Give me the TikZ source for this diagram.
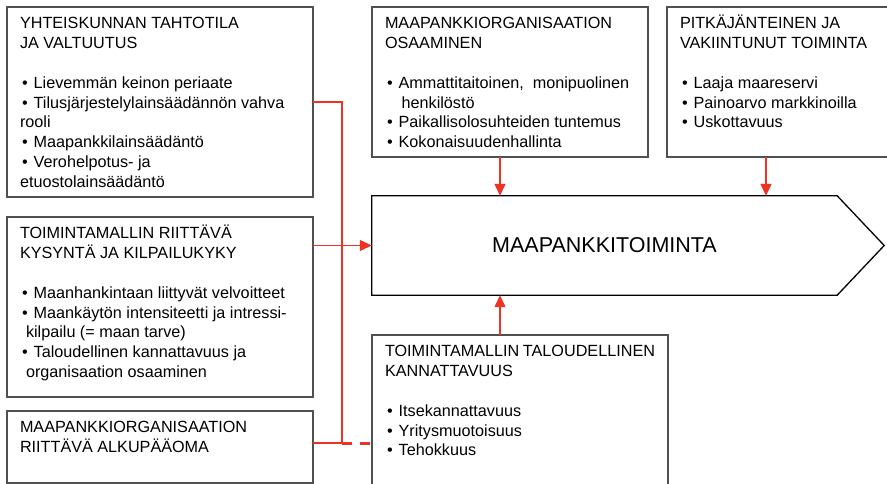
\documentclass[tikz,border=0pt]{standalone}
\usepackage{fontspec}
\setmainfont{Liberation Sans}
\usepackage{tikz}
\usetikzlibrary{
  arrows.meta,
  positioning,
  calc
}
\definecolor{mpred}{RGB}{238, 50, 36}
\definecolor{mpgray}{RGB}{80, 80, 80}
\newcommand{\bul}{\hspace*{2pt}\textbullet\hspace{6pt}}
\newcommand{\hng}{\phantom{\bul}}
\newcommand{\cbtext}[3]{\parbox[t][#2][t]{#1}{\strut #3}}

\begin{document}
\begin{tikzpicture}[x=1pt, y=-1pt,
    cbox/.style={
        draw=mpgray, line width=1.6pt, anchor=north west,
        inner xsep=13pt, inner ysep=8pt, outer sep=0pt,
        font=\fontsize{16.2}{19.8}\selectfont
    },
  hubbox/.style={minimum width=465pt, minimum height=99pt, inner sep=0pt,
        font=\fontsize{21.5}{24}\selectfont},
  rarr/.style={draw=mpred, line width=1.3pt, -{Triangle[length=12pt, width=11pt]}},
  rline/.style={draw=mpred, line width=1.2pt},
  rdash/.style={draw=mpred, line width=3pt, dash pattern=on 10pt off 8pt}
]
\useasboundingbox (0,0) rectangle (887,484);
\def\xL{7}   \def\xM{372}   \def\xR{667}
\def\rA{7}   \def\rB{217}   \def\rC{411}   \def\rD{335}

\node[cbox] (tahto) at (\xL,\rA) {\cbtext{280pt}{174pt}{%
  YHTEISKUNNAN TAHTOTILA\\
  JA VALTUUTUS\\[19.8pt]
  \bul Lievemmän keinon periaate\\
  \bul Tilusjärjestelylainsäädännön vahva\\
  rooli\\
  \bul Maapankkilainsäädäntö\\
  \bul Verohelpotus- ja\\
  etuostolainsäädäntö}};

\node[cbox] (kysy) at (\xL,\rB) {\cbtext{280pt}{164pt}{%
  TOIMINTAMALLIN RIITTÄVÄ\\
  KYSYNTÄ JA KILPAILUKYKY\\[19.8pt]
  \bul Maanhankintaan liittyvät velvoitteet\\
  \bul Maankäytön intensiteetti ja intressi-\\
  \hspace*{6pt}kilpailu (= maan tarve)\\
  \bul Taloudellinen kannattavuus ja\\
  \hspace*{6pt}organisaation osaaminen}};

\node[cbox] (alku) at (\xL,\rC) {\cbtext{280pt}{56pt}{%
  MAAPANKKIORGANISAATION\\
  RIITTÄVÄ ALKUPÄÄOMA}};

\node[cbox] (osaam) at (\xM,\rA) {\cbtext{250pt}{134pt}{%
  MAAPANKKIORGANISAATION\\
  OSAAMINEN\\[19.8pt]
  \bul Ammattitaitoinen,\ \ monipuolinen\\
  \hng\hspace{3pt}henkilöstö\\
  \bul Paikallisolosuhteiden tuntemus\\
  \bul Kokonaisuudenhallinta}};

\node[cbox] (pitk) at (\xR,\rA) {\cbtext{196pt}{134pt}{%
  PITKÄJÄNTEINEN JA\\
  VAKIINTUNUT TOIMINTA\\[19.8pt]
  \bul Laaja maareservi\\
  \bul Painoarvo markkinoilla\\
  \bul Uskottavuus}};

\node[cbox] (kann) at (\xM,\rD) {\cbtext{270pt}{144pt}{%
  TOIMINTAMALLIN TALOUDELLINEN\\
  KANNATTAVUUS\\[19.8pt]
  \bul Itsekannattavuus\\
  \bul Yritysmuotoisuus\\
  \bul Tehokkuus}};

% central arrow shape
\node[hubbox] (hub) at (604.5,245.5) {MAAPANKKITOIMINTA};
\draw[black, line width=1.3pt] (hub.north west) -- (hub.north east)
  -- ([xshift=47pt]hub.east) -- (hub.south east) -- (hub.south west) -- cycle;

% connectors
\draw[rarr] ([xshift=-10pt]osaam.south) -- ([xshift=-10pt]osaam.south |- hub.north);
\draw[rarr] ([xshift=-12pt]pitk.south) -- ([xshift=-12pt]pitk.south |- hub.north);
\draw[rarr] ([xshift=-20pt]kann.north) -- ([xshift=-20pt]kann.north |- hub.south);
\coordinate (alkuR) at ([yshift=4pt]alku.east);
\draw[rline] (tahto.east) -- ++(29,0) |- (alkuR);
\draw[rarr] (kysy.east |- hub.west) -- (hub.west);
\draw[rdash] ([xshift=29pt]alkuR) -- (alkuR -| kann.west);

\end{tikzpicture}
\end{document}
